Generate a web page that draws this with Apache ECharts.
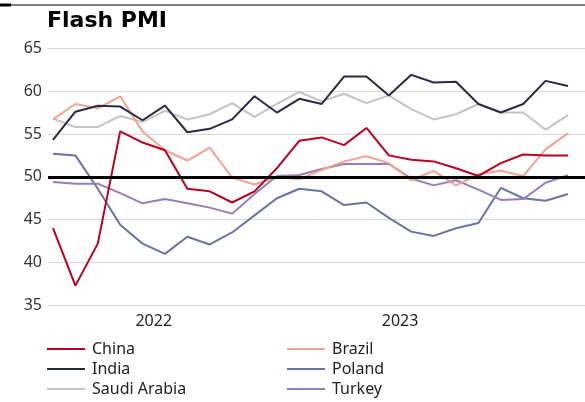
<!DOCTYPE html>
<html>
<head>
<meta charset="utf-8">
<script src="https://cdn.jsdelivr.net/npm/echarts@6/dist/echarts.min.js"></script>
<style>html,body{margin:0;padding:0;background:#fff;}#c{width:585px;height:402px;}</style>
</head>
<body>
<div id="c"></div>
<script>
const months = ['2022-03','2022-04','2022-05','2022-06','2022-07','2022-08','2022-09','2022-10','2022-11','2022-12',
  '2023-01','2023-02','2023-03','2023-04','2023-05','2023-06','2023-07','2023-08','2023-09','2023-10','2023-11','2023-12',
  '2024-01','2024-02'];
const china  = [44.0, 37.3, 42.2, 55.3, 54.0, 53.1, 48.6, 48.3, 47.0, 48.3, 51.0, 54.2, 54.6, 53.7, 55.7, 52.5, 52.0, 51.8, 51.0, 50.1, 51.6, 52.6, 52.5, 52.5];
const brazil = [56.7, 58.5, 58.0, 59.4, 55.3, 53.1, 51.9, 53.4, 49.9, 49.1, 50.0, 49.7, 50.8, 51.8, 52.4, 51.6, 49.6, 50.7, 49.0, 50.3, 50.7, 50.1, 53.2, 55.1];
const india  = [54.3, 57.6, 58.3, 58.2, 56.6, 58.3, 55.2, 55.6, 56.7, 59.4, 57.5, 59.1, 58.5, 61.7, 61.7, 59.5, 61.9, 61.0, 61.1, 58.5, 57.5, 58.5, 61.2, 60.6];
const poland = [52.7, 52.5, 48.6, 44.4, 42.2, 41.0, 43.0, 42.1, 43.5, 45.5, 47.5, 48.6, 48.3, 46.7, 47.0, 45.2, 43.6, 43.1, 44.0, 44.6, 48.7, 47.5, 47.2, 48.0];
const saudi  = [56.8, 55.8, 55.8, 57.1, 56.4, 57.7, 56.7, 57.3, 58.6, 57.0, 58.5, 59.9, 58.8, 59.7, 58.6, 59.5, 57.9, 56.7, 57.3, 58.5, 57.5, 57.5, 55.5, 57.2];
const turkey = [49.4, 49.2, 49.2, 48.1, 46.9, 47.4, 46.9, 46.4, 45.7, 48.0, 50.1, 50.2, 50.9, 51.5, 51.5, 51.5, 49.8, 49.0, 49.6, 48.5, 47.3, 47.4, 49.3, 50.2];
const yearLabels = ['2022', '2023'];
const threshold = 50;

const yearPos = yearLabels.map(y => {
  const idx = months.map((m, i) => m.startsWith(y) ? i : -1).filter(i => i >= 0);
  return (idx[0] + idx[idx.length - 1]) / 2;
});

const toXY = arr => arr.map((v, i) => [i, v]);
const font = '"Noto Sans", sans-serif';

const seriesDefs = [
  { name: 'Saudi Arabia', data: saudi, color: '#c4c4c4' },
  { name: 'Poland', data: poland, color: '#6a74a2' },
  { name: 'Turkey', data: turkey, color: '#987db6' },
  { name: 'Brazil', data: brazil, color: '#f3a294' },
  { name: 'India', data: india, color: '#272c40' },
  { name: 'China', data: china, color: '#bb0021' }
];

const series = seriesDefs.map(s => ({
  name: s.name,
  type: 'line',
  data: toXY(s.data),
  symbol: 'none',
  color: s.color,
  lineStyle: { color: s.color, width: 2 },
  itemStyle: { color: s.color },
  silent: true
}));
series.push({
  name: 'threshold',
  type: 'line',
  data: [],
  silent: true,
  z: 10,
  markLine: {
    silent: true,
    symbol: 'none',
    label: { show: false },
    lineStyle: { color: '#000', width: 3, type: 'solid' },
    data: [{ yAxis: threshold }]
  }
});

const legendCommon = {
  orient: 'vertical',
  top: 341,
  icon: 'rect',
  itemWidth: 38,
  itemHeight: 2,
  itemGap: 4,
  padding: 0,
  selectedMode: false,
  textStyle: { fontFamily: font, fontSize: 16, color: '#222', padding: [0, 0, 0, 2] }
};

const chart = echarts.init(document.getElementById('c'), null, { renderer: 'canvas' });
chart.setOption({
  animation: false,
  backgroundColor: '#fff',
  title: {
    text: 'Flash PMI',
    left: 47,
    top: 10,
    padding: 0,
    textStyle: { fontFamily: '"DejaVu Sans", sans-serif', fontWeight: 'bold', fontSize: 22, color: '#000' }
  },
  graphic: [
    { type: 'rect', shape: { x: 0, y: 4.5, width: 585, height: 1 }, style: { fill: '#000' } },
    { type: 'rect', shape: { x: 0, y: 3.5, width: 11, height: 3 }, style: { fill: '#000' } }
  ],
  legend: [
    Object.assign({ left: 47, data: ['China', 'India', 'Saudi Arabia'] }, legendCommon),
    Object.assign({ left: 287, data: ['Brazil', 'Poland', 'Turkey'] }, legendCommon)
  ],
  grid: { left: 48, right: 0, top: 48.3, bottom: 96.7, containLabel: false },
  xAxis: {
    type: 'value',
    min: -0.223,
    max: 23.76,
    axisLine: { show: false },
    axisTick: { show: false },
    splitLine: { show: false },
    axisLabel: {
      customValues: yearPos,
      margin: 8,
      fontFamily: font,
      fontSize: 16,
      color: '#222',
      formatter: v => {
        const k = yearPos.findIndex(p => Math.abs(p - v) < 1e-6);
        return k >= 0 ? yearLabels[k] : '';
      }
    }
  },
  yAxis: {
    type: 'value',
    min: 35,
    max: 65,
    interval: 5,
    axisLine: { show: false },
    axisTick: { show: false },
    splitLine: { lineStyle: { color: '#d9d9d9', width: 1 } },
    axisLabel: { margin: 6, fontFamily: font, fontSize: 16, color: '#333' }
  },
  series: series
});
</script>
</body>
</html>
